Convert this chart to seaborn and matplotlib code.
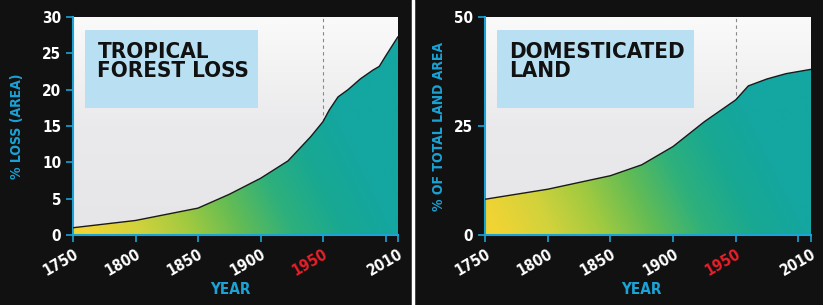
import numpy as np
import matplotlib.pyplot as plt
import seaborn as sns
from matplotlib.colors import LinearSegmentedColormap
from matplotlib.lines import Line2D
from matplotlib.patches import Rectangle

# data
years_forest = [1750, 1800, 1850, 1875, 1900, 1922, 1940, 1950, 1955, 1962, 1970, 1980, 1990, 1995, 2000, 2010]
loss_forest = [1.0, 2.0, 3.7, 5.6, 7.8, 10.2, 13.5, 15.6, 17.2, 19.0, 20.0, 21.5, 22.7, 23.2, 24.6, 27.3]

years_land = [1750, 1800, 1850, 1875, 1900, 1925, 1950, 1960, 1975, 1990, 2010]
land_share = [8.2, 10.5, 13.6, 16.1, 20.3, 26.0, 31.0, 34.2, 35.8, 37.0, 38.0]

x_ticks = [1750, 1800, 1850, 1900, 1950, 2000, 2010]
x_tick_labels = ['1750', '1800', '1850', '1900', '1950', '', '2010']

sns.set_style('ticks')
plt.rcParams['font.family'] = ['DejaVu Sans']
plt.rcParams['font.stretch'] = 'condensed'
plt.rcParams['font.weight'] = 'bold'

CYAN = '#1ba3d6'
fill_cmap = LinearSegmentedColormap.from_list(
    'fill', ['#f0d434', '#d2d23c', '#a2ca40', '#64bc54', '#2eb07c', '#18a892', '#14a6a0'])
bg_cmap = LinearSegmentedColormap.from_list('bg', ['#e6e6e9', '#eaeaec', '#fafafa'])


def draw_panel(ax, years, values, ymax, yticks, title, box_right):
    # background
    yy = np.linspace(0, 1, 100).reshape(-1, 1)
    ax.imshow(yy, extent=[1750, 2010, 0, ymax], origin='lower', aspect='auto',
              cmap=bg_cmap, zorder=0)

    ax.axvline(1950, color='#888888', linestyle=(0, (3, 3)), linewidth=0.8, zorder=1)

    # gradient fill under curve
    xf = np.linspace(0, 1, 300)
    yf = np.linspace(0, 1, 100)
    X, Y = np.meshgrid(xf, yf)
    t = np.clip(X * 1.05 + Y * 0.35 - 0.05, 0, 1)
    im = ax.imshow(t, extent=[1750, 2010, 0, ymax], origin='lower', aspect='auto',
                   cmap=fill_cmap, vmin=0, vmax=1, zorder=2)
    poly = ax.fill_between(years, values, 0, facecolor='none', edgecolor='none')
    im.set_clip_path(poly.get_paths()[0], transform=ax.transData)

    sns.lineplot(x=years, y=values, ax=ax, color='#1a1a1a', linewidth=1.0, zorder=3)

    ax.set_xlim(1750, 2010)
    ax.set_ylim(0, ymax)
    ax.set_xticks(x_ticks)
    ax.set_xticklabels(x_tick_labels, rotation=30, ha='right', rotation_mode='anchor',
                       fontsize=11, color='white', fontweight='bold')
    ax.set_yticks(yticks)
    ax.set_yticklabels([str(v) for v in yticks], fontsize=11, color='white', fontweight='bold')
    ax.tick_params(axis='both', colors=CYAN, length=5, width=1.2, labelcolor='white')
    ax.get_xticklabels()[4].set_color('#e8202a')
    for s in ['top', 'right']:
        ax.spines[s].set_visible(False)
    for s in ['left', 'bottom']:
        ax.spines[s].set_color(CYAN)
        ax.spines[s].set_linewidth(1.5)
    ax.set_xlabel('')
    ax.set_ylabel('')

    ax.add_patch(Rectangle((0.038, 0.583), box_right - 0.038, 0.357, transform=ax.transAxes,
                           facecolor='#b9e0f2', edgecolor='none', zorder=4))
    ax.text(0.075, 0.885, title, transform=ax.transAxes, ha='left', va='top',
            fontsize=16, fontweight='heavy', color='#111111', linespacing=0.95, zorder=5)


fig = plt.figure(figsize=(8.23, 3.05), dpi=100, facecolor='#111111')
ax1 = fig.add_axes([73 / 823, 70 / 305, 325 / 823, 218 / 305])
ax2 = fig.add_axes([485 / 823, 70 / 305, 326 / 823, 218 / 305])

draw_panel(ax1, years_forest, loss_forest, 30, [0, 5, 10, 15, 20, 25, 30], 'TROPICAL\nFOREST LOSS', 0.569)
draw_panel(ax2, years_land, land_share, 50, [0, 25, 50], 'DOMESTICATED\nLAND', 0.641)

fig.text(17 / 823, 1 - 126 / 305, '% LOSS (AREA)', rotation=90, ha='center', va='center',
         color=CYAN, fontsize=10, fontweight='bold')
fig.text(439 / 823, 1 - 127 / 305, '% OF TOTAL LAND AREA', rotation=90, ha='center', va='center',
         color=CYAN, fontsize=10, fontweight='bold')
fig.text(230 / 823, 1 - 290 / 305, 'YEAR', ha='center', va='center', color=CYAN,
         fontsize=11, fontweight='bold')
fig.text(641 / 823, 1 - 290 / 305, 'YEAR', ha='center', va='center', color=CYAN,
         fontsize=11, fontweight='bold')

# white separator between panels
fig.add_artist(Line2D([413 / 823, 413 / 823], [0, 1], color='white', linewidth=2.5))

fig.savefig('out.png', dpi=100, facecolor=fig.get_facecolor())
